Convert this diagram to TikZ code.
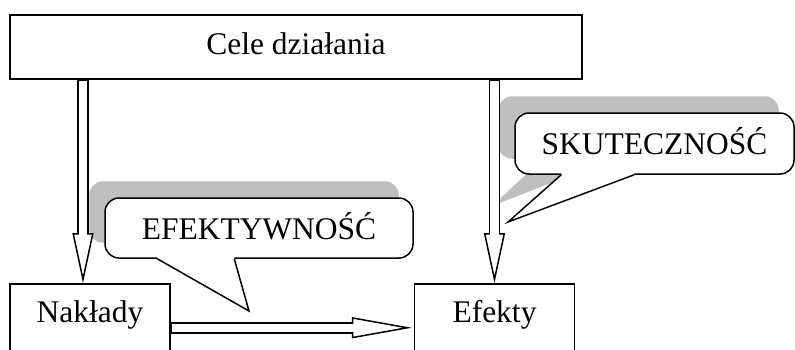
\documentclass[tikz,border=0pt]{standalone}
\usepackage{fontspec}
\setmainfont{Liberation Serif}
\usetikzlibrary{arrows.meta,positioning}
\pgfdeclarelayer{bg}
\pgfsetlayers{bg,main}

\begin{document}
\begin{tikzpicture}[x=1pt, y=-1pt,
    every node/.style={font=\fontsize{31.5}{36}\selectfont},
    box/.style={draw, line width=1.5pt, inner sep=0pt, text height=22pt},
    goal/.style={box, minimum width=572pt, minimum height=64pt, text depth=7pt},
    unit/.style={box, anchor=north, minimum width=160pt, inner ysep=17pt, text depth=32pt},
    bubble/.style={draw, fill=white, line width=1.5pt, rounded corners=14pt,
                   minimum height=60pt, inner sep=0pt, text height=22pt, text depth=0pt},
    shadowfill/.style={fill=black!25, rounded corners=14pt},
    tipline/.style={line width=1.5pt, line join=miter},
    hollow/.style={line width=11.5pt,
                   -{Triangle[length=#1, width=21pt, fill=white, line width=1.5pt]},
                   postaction={draw=white, line width=8.5pt, arrows=-,
                               shorten <=1pt, shorten >=#1-3pt}},
    hollow/.default=50pt]
  \useasboundingbox (0,0) rectangle (795,349);

  \node[goal] (cele) at (296,47) {Cele działania};
  \node[unit] (naklady) at (90,283) {Nakłady};
  \node[unit, right=243pt of naklady] (efekty) {Efekty};

  \node[bubble, minimum width=308pt] (efektywnosc) at (259,228) {EFEKTYWNOŚĆ};
  \node[bubble, minimum width=279pt, minimum height=61pt] (skutecznosc) at (654.5,143.5) {SKUTECZNOŚĆ};
  \coordinate (efetip) at (249,311);
  \coordinate (skutip) at (508,222);

  % callout pointers
  \fill[white] ([xshift=53pt,yshift=2pt]efektywnosc.south west) -- ([xshift=53pt]efektywnosc.south west)
    -- (efetip) -- ([xshift=130pt]efektywnosc.south west) -- ([xshift=130pt,yshift=2pt]efektywnosc.south west) -- cycle;
  \draw[tipline] ([xshift=53pt]efektywnosc.south west) -- (efetip) -- ([xshift=130pt]efektywnosc.south west);
  \fill[white] ([xshift=47pt,yshift=2pt]skutecznosc.south west) -- ([xshift=47pt]skutecznosc.south west)
    -- (skutip) -- ([xshift=120pt]skutecznosc.south west) -- ([xshift=120pt,yshift=2pt]skutecznosc.south west) -- cycle;
  \draw[tipline] ([xshift=47pt]skutecznosc.south west) -- (skutip) -- ([xshift=120pt]skutecznosc.south west);

  % shadows
  \begin{pgfonlayer}{bg}
    \fill[shadowfill] ([shift={(-15pt,16pt)}]efektywnosc.south west) rectangle ([shift={(-15pt,16pt)}]efektywnosc.north east);
    \fill[shadowfill] ([shift={(-16pt,16pt)}]skutecznosc.south west) rectangle ([shift={(-16pt,16pt)}]skutecznosc.north east);
    \fill[black!25] ([shift={(31pt,18pt)}]skutecznosc.south west) -- ([shift={(-16pt,16pt)}]skutip)
      -- ([shift={(104pt,18pt)}]skutecznosc.south west) -- cycle;
  \end{pgfonlayer}

  \coordinate (nakin) at ([xshift=-7pt]naklady.north);
  \draw[hollow] (nakin |- cele.south) -- (nakin);
  \draw[hollow] (efekty.north |- cele.south) -- (efekty.north);
  \draw[hollow=60pt] (naklady.east) -- ([xshift=-2pt]efekty.west);
\end{tikzpicture}
\end{document}
